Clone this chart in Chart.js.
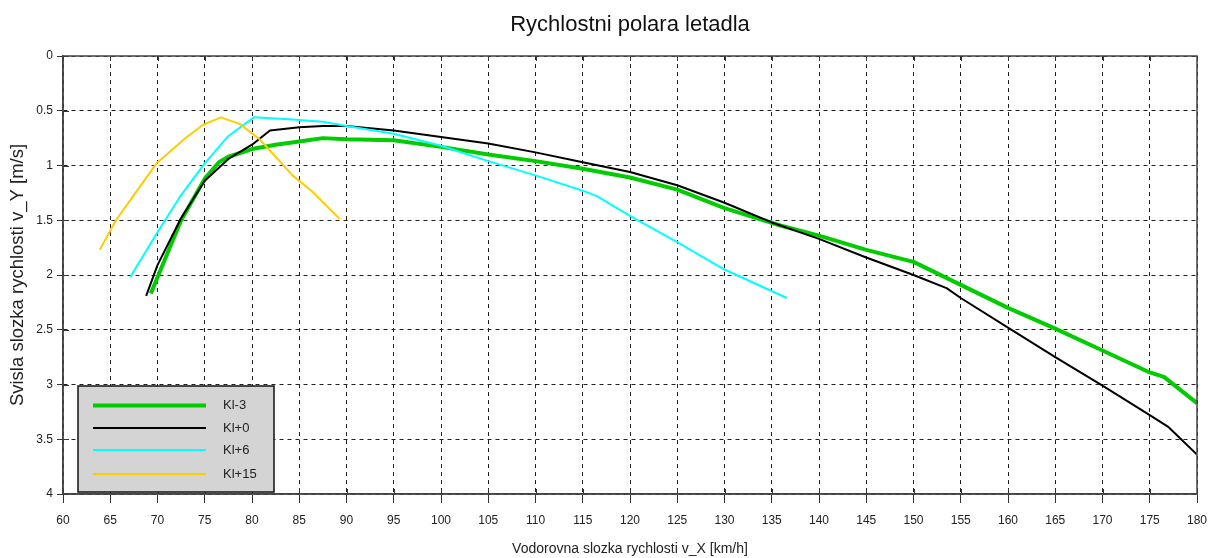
<!DOCTYPE html>
<html>
<head>
<meta charset="utf-8">
<script src="https://cdn.jsdelivr.net/npm/chart.js@4.4.0/dist/chart.umd.min.js"></script>
<style>
  html, body { margin: 0; padding: 0; background: #ffffff; }
  #wrap { width: 1209px; height: 558px; }
</style>
</head>
<body>
<div id="wrap"><canvas id="c" width="1209" height="558"></canvas></div>
<script>
// ---- data ----
const seriesNames = ['Kl-3', 'Kl+0', 'Kl+6', 'Kl+15'];

const klm3X = [69.3, 70, 72.5, 75, 76.5, 77.5, 80, 82.5, 85, 87.5, 90, 95, 100, 105, 110, 115, 120, 125, 130, 136, 140, 145, 150, 155, 160, 165, 170, 175, 176.5, 180];
const klm3Y = [2.17, 2.02, 1.50, 1.12, 0.97, 0.92, 0.85, 0.81, 0.78, 0.75, 0.76, 0.77, 0.83, 0.90, 0.96, 1.03, 1.11, 1.22, 1.39, 1.55, 1.64, 1.77, 1.88, 2.09, 2.30, 2.49, 2.69, 2.89, 2.93, 3.17];

const kl0X = [68.8, 70, 72.5, 75, 77.5, 80, 81.9, 85, 87.5, 90, 95, 100, 105, 110, 115, 120, 125, 130, 135, 140, 145, 150, 153.5, 155, 160, 165, 170, 175, 177, 180];
const kl0Y = [2.19, 1.91, 1.48, 1.14, 0.94, 0.81, 0.68, 0.65, 0.64, 0.64, 0.68, 0.74, 0.80, 0.88, 0.97, 1.06, 1.18, 1.34, 1.52, 1.67, 1.84, 2.00, 2.12, 2.21, 2.48, 2.75, 3.01, 3.28, 3.39, 3.64];

const kl6X = [67.1, 70, 72.5, 75, 77.5, 80.2, 84.3, 87.5, 90, 95, 100, 105, 110, 115, 116.5, 120, 125, 130, 136.6];
const kl6Y = [2.02, 1.61, 1.27, 0.98, 0.73, 0.56, 0.58, 0.60, 0.64, 0.71, 0.82, 0.96, 1.09, 1.23, 1.28, 1.46, 1.70, 1.95, 2.21];

const kl15X = [63.9, 65.6, 67.5, 69.9, 73.1, 74.8, 76.7, 78.7, 80.8, 84.3, 86.4, 89.3];
const kl15Y = [1.77, 1.50, 1.27, 0.98, 0.74, 0.63, 0.56, 0.62, 0.76, 1.09, 1.24, 1.49];

const xTickMin = 60, xTickMax = 180, xTickStep = 5;
const yTickMin = 0, yTickMax = 4, yTickStep = 0.5;

const titleText = 'Rychlostni polara letadla';
const xTitleText = 'Vodorovna slozka rychlosti v_X [km/h]';
const yTitleText = 'Svisla slozka rychlosti v_Y [m/s]';

// ---- build datasets ----
function pts(xs, ys) { return xs.map((x, i) => ({ x: x, y: ys[i] })); }

const FONT = "'Liberation Sans', Arial, sans-serif";

const datasets = [
  { label: seriesNames[0], data: pts(klm3X, klm3Y), borderColor: '#00cc00', borderWidth: 4, order: 3 },
  { label: seriesNames[1], data: pts(kl0X, kl0Y), borderColor: '#000000', borderWidth: 2, order: 2 },
  { label: seriesNames[2], data: pts(kl6X, kl6Y), borderColor: '#00ffff', borderWidth: 2, order: 1 },
  { label: seriesNames[3], data: pts(kl15X, kl15Y), borderColor: '#ffcc00', borderWidth: 2, order: 0 }
].map(d => Object.assign(d, { fill: false, pointRadius: 0, tension: 0, borderJoinStyle: 'round' }));

// frame + inner ticks + legend box
const decorPlugin = {
  id: 'decor',
  afterDraw(chart) {
    const ctx = chart.ctx;
    const a = chart.chartArea;
    const xs = chart.scales.x, ys = chart.scales.y;
    ctx.save();
    // inner ticks
    ctx.strokeStyle = '#333';
    ctx.lineWidth = 1;
    ctx.beginPath();
    for (let v = xTickMin; v <= xTickMax; v += xTickStep) {
      const px = Math.round(xs.getPixelForValue(v)) + 0.5;
      ctx.moveTo(px, a.bottom); ctx.lineTo(px, a.bottom - 5);
      ctx.moveTo(px, a.top); ctx.lineTo(px, a.top + 5);
    }
    for (let v = yTickMin; v <= yTickMax; v += yTickStep) {
      const py = Math.round(ys.getPixelForValue(v)) + 0.5;
      ctx.moveTo(a.left, py); ctx.lineTo(a.left + 6, py);
    }
    ctx.stroke();
    // frame
    ctx.strokeStyle = '#444';
    ctx.lineWidth = 1.5;
    ctx.strokeRect(a.left, a.top, a.right - a.left, a.bottom - a.top);

    // legend box
    const bx = 78, by = 386, bw = 196, bh = 106;
    ctx.fillStyle = '#d4d4d4';
    ctx.fillRect(bx, by, bw, bh);
    ctx.strokeStyle = '#111';
    ctx.lineWidth = 1.5;
    ctx.strokeRect(bx, by, bw, bh);
    const rowY = [405.5, 428, 450, 474];
    ctx.font = '13px ' + FONT;
    ctx.textBaseline = 'middle';
    ctx.textAlign = 'left';
    chart.data.datasets.forEach((ds, i) => {
      ctx.strokeStyle = ds.borderColor;
      ctx.lineWidth = ds.borderWidth;
      ctx.beginPath();
      ctx.moveTo(93, rowY[i]);
      ctx.lineTo(206, rowY[i]);
      ctx.stroke();
      ctx.fillStyle = '#222';
      ctx.fillText(ds.label, 223, rowY[i]);
    });
    ctx.restore();
  }
};

new Chart(document.getElementById('c'), {
  type: 'line',
  data: { datasets: datasets },
  plugins: [decorPlugin],
  options: {
    responsive: false,
    animation: false,
    parsing: true,
    layout: { padding: { top: 0, right: 0, left: 0, bottom: 0 } },
    plugins: {
      legend: { display: false },
      tooltip: { enabled: false },
      title: {
        display: true,
        fullSize: false,
        text: titleText,
        color: '#111',
        font: { family: FONT, size: 22, weight: 'normal' },
        padding: { top: 12, bottom: 17.6 }
      }
    },
    scales: {
      x: {
        type: 'linear',
        min: xTickMin, max: xTickMax,
        afterFit(scale) { scale.height = 64; scale.paddingRight = 12; scale.paddingLeft = 0; },
        ticks: { stepSize: xTickStep, color: '#222', font: { family: FONT, size: 12 }, padding: 10, maxRotation: 0, autoSkip: false },
        grid: { color: '#222', lineWidth: 1, tickLength: 9, tickColor: '#333', drawTicks: true },
        border: { display: true, color: '#444', width: 1.5, dash: [4, 4] },
        title: { display: true, text: xTitleText, color: '#222', font: { family: FONT, size: 14 }, padding: { top: 2, bottom: 0 } }
      },
      y: {
        type: 'linear',
        reverse: true,
        min: yTickMin, max: yTickMax,
        afterFit(scale) { scale.width = 63; },
        ticks: { stepSize: yTickStep, color: '#222', font: { family: FONT, size: 12 }, padding: 4, callback: v => String(v) },
        grid: { color: '#222', lineWidth: 1, tickLength: 6, tickColor: '#333' },
        border: { display: true, color: '#444', width: 1.5, dash: [4, 4] },
        title: { display: true, text: yTitleText, color: '#222', font: { family: FONT, size: 18.5 }, padding: { top: 7, bottom: 0 } }
      }
    }
  }
});
</script>
</body>
</html>
